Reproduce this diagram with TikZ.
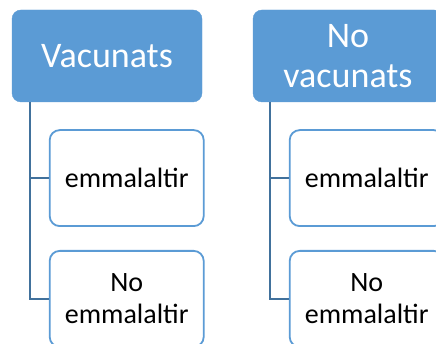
\documentclass[tikz,border=0pt]{standalone}
\usepackage{fontspec}
\setmainfont{Carlito}
\usepackage{tikz}
\usetikzlibrary{positioning}
\definecolor{headBlue}{HTML}{5B9BD5}
\definecolor{linkBlue}{HTML}{41719C}

\begin{document}
\begin{tikzpicture}[x=1pt,y=-1pt]
  \tikzset{groupbox/.style={fill=headBlue,draw=headBlue,rounded corners=9pt,minimum width=190pt,minimum height=92pt,align=center,text=white,font=\fontsize{36}{40}\selectfont,inner sep=0pt},
    itembox/.style={draw=headBlue,line width=1.8pt,fill=white,rounded corners=10pt,minimum width=154pt,minimum height=96pt,align=center,font=\fontsize{28}{32}\selectfont,inner sep=0pt},
    link/.style={draw=linkBlue,line width=2pt}}
  \useasboundingbox (0,0) rectangle (436,344);
  \node[groupbox] (vac) at (107,56) {Vacunats};
  \node[itembox,below right=27pt and 37pt of vac.south west] (vacA) {emmalaltir};
  \node[itembox,below=23pt of vacA] (vacB) {No\\emmalaltir};
  \node[groupbox] (novac) at (348,56) {No\\vacunats};
  \node[itembox,below right=27pt and 36pt of novac.south west] (novacA) {emmalaltir};
  \node[itembox,below=23pt of novacA] (novacB) {No\\emmalaltir};
  % connectors
  \draw[link] ([xshift=18pt]vac.south west) |- (vacA.west);
  \draw[link] ([xshift=18pt]vac.south west) |- (vacB.west);
  \draw[link] ([xshift=17pt]novac.south west) |- (novacA.west);
  \draw[link] ([xshift=17pt]novac.south west) |- (novacB.west);
\end{tikzpicture}
\end{document}
